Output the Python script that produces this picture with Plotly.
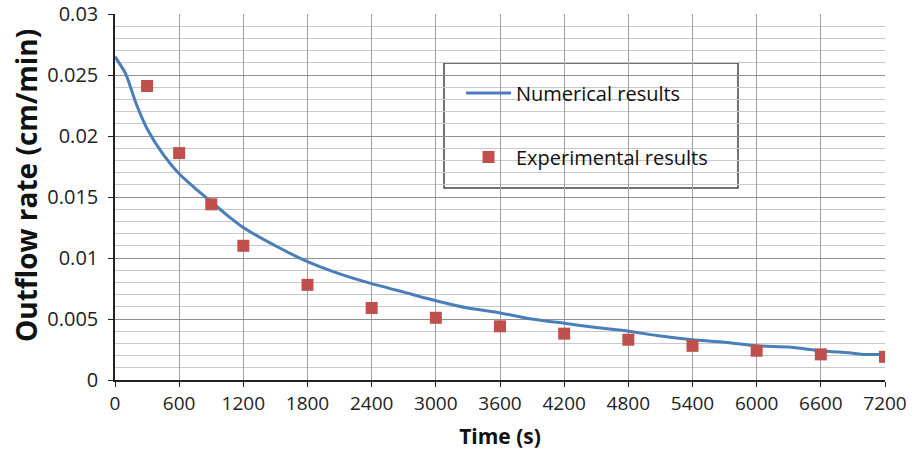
import plotly.graph_objects as go

# Numerical results (line)
num_time = [0, 100, 200, 300, 450, 600, 750, 900, 1050, 1200, 1500, 1800, 2100, 2400, 2700,
            3000, 3300, 3600, 3900, 4200, 4500, 4800, 5100, 5400, 5700, 6000, 6300, 6600, 6900, 7000, 7200]
num_rate = [0.0265, 0.0251, 0.0226, 0.0206, 0.0185, 0.0169, 0.0157, 0.0146, 0.0135, 0.0125, 0.0110,
            0.0097, 0.0087, 0.0079, 0.0072, 0.0065, 0.0059, 0.0055, 0.0050, 0.00465, 0.0043, 0.0040,
            0.0036, 0.0033, 0.0031, 0.0028, 0.0027, 0.0024, 0.0022, 0.0021, 0.0021]

# Experimental results (squares)
exp_time = [300, 600, 900, 1200, 1800, 2400, 3000, 3600, 4200, 4800, 5400, 6000, 6600, 7200]
exp_rate = [0.0241, 0.0186, 0.0144, 0.0110, 0.0078, 0.0059, 0.0051, 0.0044, 0.0038, 0.0033,
            0.0028, 0.0024, 0.0021, 0.0019]

x_ticks = [0, 600, 1200, 1800, 2400, 3000, 3600, 4200, 4800, 5400, 6000, 6600, 7200]
y_ticks = [0, 0.005, 0.01, 0.015, 0.02, 0.025, 0.03]
y_tick_labels = ["0", "0.005", "0.01", "0.015", "0.02", "0.025", "0.03"]

font_family = "'Open Sans', Lato, sans-serif"

fig = go.Figure()
fig.add_trace(go.Scatter(
    x=num_time, y=num_rate, mode="lines", name="Numerical results",
    line=dict(color="#4A7EBB", width=3, shape="spline", smoothing=0.6),
    legendgroup="a",
))
fig.add_trace(go.Scatter(
    x=exp_time, y=exp_rate, mode="markers", name="Experimental results",
    marker=dict(symbol="square", size=12, color="#C0504D", line=dict(width=0)),
    legendgroup="b",
))

fig.update_layout(
    width=919, height=456,
    margin=dict(l=115, r=34, t=14, b=76),
    paper_bgcolor="white", plot_bgcolor="white",
    font=dict(family=font_family, size=20, color="#222"),
    showlegend=True,
    legend=dict(
        x=(461 - 115) / 770, y=(380 - 73.5) / 366, xanchor="left", yanchor="top",
        bgcolor="rgba(0,0,0,0)", borderwidth=0,
        font=dict(size=20, color="#111", family=font_family),
        tracegroupgap=35, itemwidth=45,
    ),
    shapes=[dict(
        type="rect", xref="paper", yref="paper",
        x0=(444 - 115) / 770, x1=(738 - 115) / 770,
        y0=(380 - 188) / 366, y1=(380 - 63) / 366,
        line=dict(color="#444", width=1.5), fillcolor="white", layer="below",
    )],
    annotations=[dict(
        text="<b>Outflow rate (cm/min)</b>", textangle=-90,
        xref="paper", yref="paper", x=(26 - 115) / 770, y=(380 - 186) / 366,
        xanchor="center", yanchor="middle", showarrow=False,
        font=dict(size=28, color="#111", family=font_family),
    )],
)

fig.update_xaxes(
    range=[0, 7200], tickvals=x_ticks, ticktext=[str(v) for v in x_ticks],
    showgrid=True, gridcolor="#A0A0A0", gridwidth=1,
    showline=True, linecolor="#222", linewidth=1.5,
    ticks="outside", ticklen=5, tickcolor="#222",
    zeroline=False, automargin=False,
    title=dict(text="<b>Time (s)</b>", font=dict(size=21, color="#111"), standoff=15),
    tickfont=dict(size=19),
)
fig.update_yaxes(
    range=[0, 0.03], tickvals=y_ticks, ticktext=y_tick_labels,
    showgrid=True, gridcolor="#909090", gridwidth=1,
    minor=dict(dtick=0.001, showgrid=True, gridcolor="#C8C8C8", gridwidth=1),
    showline=True, linecolor="#222", linewidth=1.5,
    ticks="outside", ticklen=5, tickcolor="#222",
    zeroline=False, automargin=False, ticklabelstandoff=6,
    tickfont=dict(size=20),
)

fig.write_html("out.html", config={"displayModeBar": False},
               post_script="document.body.style.margin='0';")
